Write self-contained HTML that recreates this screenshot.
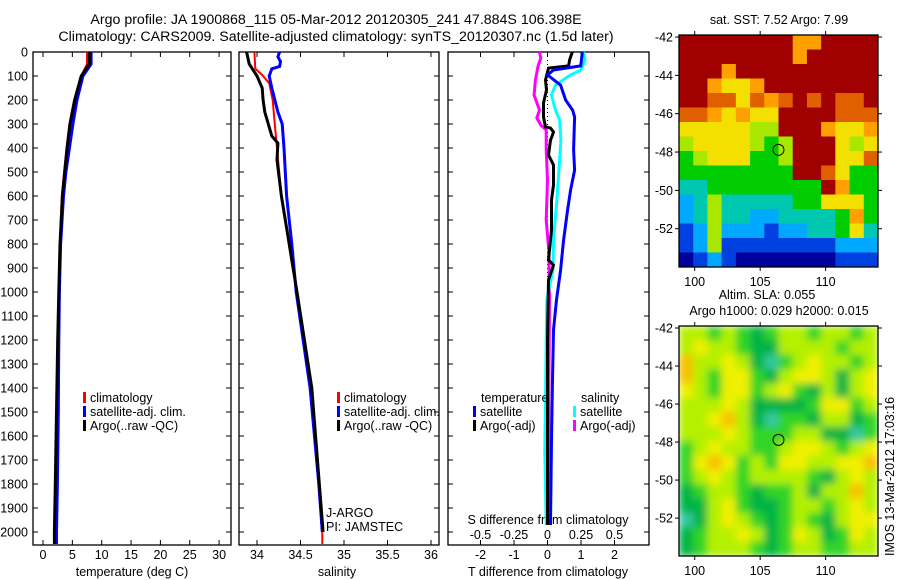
<!DOCTYPE html>
<html><head><meta charset="utf-8"><style>
body{margin:0;background:#fff;}
svg{display:block;font-family:"Liberation Sans",sans-serif;}
</style></head><body>
<svg id="fig" width="900" height="580" viewBox="0 0 900 580">
<defs>
<filter id="blur" x="-5%" y="-5%" width="110%" height="110%"><feGaussianBlur stdDeviation="4"/></filter>
<clipPath id="slaclip"><rect x="679" y="326" width="199" height="230"/></clipPath>
</defs>
<rect width="900" height="580" fill="#fff"/>
<text x="336" y="24" font-size="14.2" text-anchor="middle">Argo profile: JA 1900868_115 05-Mar-2012 20120305_241 47.884S 106.398E</text>
<text x="336" y="41" font-size="14.2" text-anchor="middle">Climatology: CARS2009. Satellite-adjusted climatology: synTS_20120307.nc (1.5d later)</text>
<g id="g"></g>
</svg>
<script>
// ---- data ----
const depthTicks=[0,100,200,300,400,500,600,700,800,900,1000,1100,1200,1300,1400,1500,1600,1700,1800,1900,2000];
const tempTicks=[0,5,10,15,20,25,30];
const salTicks=[34,34.5,35,35.5,36];
const tdTicks=[-2,-1,0,1,2];
const sdTicks=[-0.5,-0.25,0,0.25,0.5];
const sdTickLabels=["-0.5","-0.25","0","0.25","0.5"];
const tDepth=[0,50,100,200,300,400,500,600,800,1000,1200,1500,1800,2000,2050];
const tClim=[7.5,7.5,6.5,5.3,4.5,4.0,3.6,3.2,2.9,2.7,2.55,2.4,2.2,2.1,2.0];
const tSat=[8.2,8.2,6.8,5.8,5.1,4.5,3.9,3.5,3.0,2.8,2.7,2.6,2.45,2.3,2.3];
const tArgo=[7.9,7.9,6.5,5.4,4.6,4.1,3.7,3.3,2.9,2.7,2.5,2.3,2.1,1.95,1.95];
const sDepthClim=[0,70,96,130,200,283,400,600,900,1000,1200,1400,1800,2000,2050];
const sClim=[33.97,33.98,34.06,34.14,34.18,34.2,34.23,34.28,34.41,34.46,34.55,34.62,34.71,34.75,34.75];
const sDepthSat=[0,20,40,60,70,100,150,250,300,400,600,800,1000,1400,1800,2000];
const sSat=[34.26,34.24,34.27,34.26,34.17,34.14,34.17,34.24,34.29,34.31,34.34,34.4,34.45,34.61,34.71,34.75];
const sDepthArgo=[0,50,100,150,200,250,300,350,380,450,600,1000,1400,2000];
const sArgo=[33.88,33.91,34.0,34.06,34.07,34.09,34.13,34.17,34.24,34.23,34.28,34.46,34.63,34.76];
const dBlackD=[0,33,58,67,117,158,212,271,312,317,333,346,367,429,471,554,617,742,867,888,950,1200,1617,1971];
const dBlack=[0.74,0.66,0.63,0.03,-0.06,-0.03,-0.12,-0.12,-0.06,0.09,0.18,0.15,0.09,0.03,0.18,0.18,0.12,0.12,0.03,0.18,0.03,0,0,0];
const dBlueD=[0,25,58,75,96,138,200,242,271,408,492,575,658,783,908,1033,1158,1367,1617,1971];
const dBlue=[1.04,1.02,0.99,0.18,0,0.39,0.54,0.75,0.81,0.78,0.81,0.69,0.6,0.48,0.39,0.27,0.18,0.15,0.12,0.09];
const dCyanD=[0,33,75,96,138,179,242,283,367,450,617,783,908,1033,1200,1450,1658,1971];
const dCyan=[0.27,0.28,0.25,0.17,0.06,0.03,0.06,0.09,0.1,0.09,0.07,0.045,0.04,-0.005,-0.01,-0.015,-0.02,-0.01];
const dMagD=[0,25,58,117,179,242,275,304,325,408,533,700,825,1033,1450,1971];
const dMag=[-0.06,-0.05,-0.07,-0.09,-0.1,-0.06,-0.08,-0.05,-0.01,-0.01,0,-0.01,0.01,0.015,0.01,0.01];
const latTicks=[-42,-44,-46,-48,-50,-52];
const lonTicks=[100,105,110];
const argoLon=106.398, argoLat=-47.884;
const sstGrid=[
"99999999779999","99999999799999","99979999999999","99766799999999",
"99886878989889","88767669999888","66666559997667","56666545999656",
"45666445999668","44444444998644","33444444449744","23533333446664",
"23533223333474","12522212233463","12511111111222","01210000000111"];
const slaGrid=[
"33232123323323","34332113333233","53343102343323","53244213443134",
"43244234213134","33343111124423","33453102213312","33343222331102",
"23433223443234","24542324433445","23432333321343","12332122313353",
"11342112332343","01343212321344","12334312431243","12333212332233"];
const sstCol=["#00009a","#0040e0","#00a8ff","#00c8b0","#00cc00","#a8e800","#f4e000","#ffa000","#e06000","#a00000"];
const slaCol=["#30c8a0","#00b444","#30d428","#b4f000","#f0f000","#f8c000"];

// ---- helpers ----
const NS="http://www.w3.org/2000/svg";
const G=document.getElementById('g');
function mk(t,a,parent){const e=document.createElementNS(NS,t);for(const k in a)e.setAttribute(k,a[k]);(parent||G).appendChild(e);return e;}
const yD=d=>52+d*0.24;
const xT=t=>43+t*5.87;
const xS=s=>257+(s-34)*87;
const xTd=t=>547.5+t*33.5;
const xSd=s=>547.5+s*134;

function frame(x0,x1,name){
  const r=mk('rect',{x:x0,y:52,width:x1-x0,height:493,fill:'none',stroke:'#000','stroke-width':1.3});
  
  
}
function line(xs,ds,fx,col,w,name){
  let p='';
  for(let i=0;i<xs.length;i++){p+=(i?'L':'M')+fx(xs[i]).toFixed(1)+','+yD(ds[i]).toFixed(1);}
  const e=mk('path',{d:p,fill:'none',stroke:col,'stroke-width':w,'stroke-linejoin':'miter'});
  
  
}
function txt(x,y,s,anchor,size,name){
  const e=mk('text',{x:x,y:y,'font-size':size||12.5,'text-anchor':anchor||'start'});
  e.textContent=s;
  
  
  return e;
}
function xticks(vals,labels,fx,name,ly){
  vals.forEach((v,i)=>{
    const x=fx(v);
    mk('line',{x1:x,x2:x,y1:545,y2:540,stroke:'#000'});
    mk('line',{x1:x,x2:x,y1:52,y2:57,stroke:'#000'});
    txt(x,ly||559,labels[i],'middle',12.5,name);
  });
}
function legend(x,y,col,label,name){
  const m=mk('rect',{x:x,y:y-10,width:3,height:11,fill:col});
  
  
  txt(x+7,y,label,'start',12.5,name);
}

frame(33,231,'temperature-panel');
frame(239,439,'salinity-panel');
frame(448,649,'difference-panel');

depthTicks.forEach(d=>{
  const y=yD(d);
  mk('line',{x1:33,x2:38,y1:y,y2:y,stroke:'#000'});
  mk('line',{x1:226,x2:231,y1:y,y2:y,stroke:'#000'});
  mk('line',{x1:239,x2:244,y1:y,y2:y,stroke:'#000'});
  mk('line',{x1:434,x2:439,y1:y,y2:y,stroke:'#000'});
  mk('line',{x1:448,x2:453,y1:y,y2:y,stroke:'#000'});
  mk('line',{x1:644,x2:649,y1:y,y2:y,stroke:'#000'});
  txt(28,y+4.5,String(d),'end',12.5,'depth-tick-label');
});
xticks(tempTicks,tempTicks.map(String),xT,'temperature-tick-label');
txt(132,576,'temperature (deg C)','middle',12.5,'temperature-axis-title');
xticks(salTicks,salTicks.map(String),xS,'salinity-tick-label');
txt(337,576,'salinity','middle',12.5,'salinity-axis-title');
xticks(tdTicks,tdTicks.map(String),xTd,'t-diff-tick-label',559);
sdTicks.forEach((v,i)=>txt(xSd(v),539,sdTickLabels[i],'middle',12.5,'s-diff-tick-label'));
txt(548,576,'T difference from climatology','middle',12.5,'t-diff-axis-title');
txt(548,524,'S difference from climatology','middle',12.5,'s-diff-axis-title');

line(tClim,tDepth,xT,'#ff0000',2,'temp-climatology-line');
line(tSat,tDepth,xT,'#0000ff',3,'temp-satellite-line');
line(tArgo,tDepth,xT,'#000',3,'temp-argo-line');
line(sClim,sDepthClim,xS,'#ff0000',2,'sal-climatology-line');
line(sSat,sDepthSat,xS,'#0000ff',3,'sal-satellite-line');
line(sArgo,sDepthArgo,xS,'#000',3,'sal-argo-line');
const zl=mk('line',{x1:xTd(0),x2:xTd(0),y1:52,y2:300,stroke:'#000','stroke-dasharray':'1,3'});


line(dMag,dMagD,xSd,'#ff00ff',3,'sal-diff-argo-line');
line(dCyan,dCyanD,xSd,'#00ffff',3,'sal-diff-satellite-line');
line(dBlack,dBlackD,xTd,'#000',3,'temp-diff-argo-line');
line(dBlue,dBlueD,xTd,'#0000ff',3,'temp-diff-satellite-line');

legend(83,402,'#ff0000','climatology','legend-climatology');
legend(83,416,'#0000ff','satellite-adj. clim.','legend-satellite');
legend(83,430,'#000','Argo(..raw -QC)','legend-argo');
legend(337,402,'#ff0000','climatology','legend2-climatology');
legend(337,416,'#0000ff','satellite-adj. clim.','legend2-satellite');
legend(337,430,'#000','Argo(..raw -QC)','legend2-argo');
txt(481,402,'temperature','start',12.5,'legend-temperature-heading');
legend(473,416,'#0000ff','satellite','legend-t-satellite');
legend(473,430,'#000','Argo(-adj)','legend-t-argo');
txt(581,402,'salinity','start',12.5,'legend-salinity-heading');
legend(573,416,'#00ffff','satellite','legend-s-satellite');
legend(573,430,'#ff00ff','Argo(-adj)','legend-s-argo');
txt(326,517,'J-ARGO','start',12.5,'float-program-label');
txt(326,531,'PI: JAMSTEC','start',12.5,'float-pi-label');

function map(grid,cols,top,bottom,name,smooth){
  const L=679,R=878,lon0=98.8,lon1=114.0;
  const py=(bottom-top)/12.0;
  const xL=lon=>L+(lon-lon0)/(lon1-lon0)*(R-L);
  const yL=lat=>top+2+(-42-lat)*py*(12/12.1);
  const rows=grid.length, nc=grid[0].length;
  const cw=(R-L)/nc, ch=(bottom-top)/rows;
  const outer=mk('g',smooth?{'clip-path':'url(#slaclip)'}:{});
  
  
  const g=mk('g',smooth?{filter:'url(#blur)'}:{},outer);
  for(let r=0;r<rows;r++)for(let c=0;c<nc;c++){
    mk('rect',{x:L+c*cw,y:top+r*ch,width:cw+0.5,height:ch+0.5,fill:cols[+grid[r][c]]},g);
  }
  const f=mk('rect',{x:L,y:top,width:R-L,height:bottom-top,fill:'none',stroke:'#000','stroke-width':1.3});
  
  
  latTicks.forEach(v=>{const y=yL(v);mk('line',{x1:L-4,x2:L,y1:y,y2:y,stroke:'#000'});mk('line',{x1:R,x2:R+4,y1:y,y2:y,stroke:'#000'});txt(L-6,y+4.5,String(v),'end',12.5,name+'-lat-label');});
  lonTicks.forEach(v=>{const x=xL(v);mk('line',{x1:x,x2:x,y1:bottom,y2:bottom+4,stroke:'#000'});mk('line',{x1:x,x2:x,y1:top-4,y2:top,stroke:'#000'});txt(x,bottom+19,String(v),'middle',12.5,name+'-lon-label');});
  const c=mk('circle',{cx:xL(argoLon),cy:yL(argoLat),r:5.5,fill:'none',stroke:'#000','stroke-width':1});
  
  
}
map(sstGrid,sstCol,35,267,'sst-map',false);
map(slaGrid,slaCol,326,556,'sla-map',true);
txt(779,24,'sat. SST: 7.52 Argo: 7.99','middle',12.5,'sst-map-title');
txt(767,299,'Altim. SLA: 0.055','middle',12.5,'sla-map-title');
txt(779,315,'Argo h1000: 0.029 h2000: 0.015','middle',12.5,'sla-map-subtitle');
const v=txt(0,0,'IMOS 13-Mar-2012 17:03:16','start',12.5,'timestamp-label');
v.setAttribute('transform','translate(894,556) rotate(-90)');
</script>
</body></html>
